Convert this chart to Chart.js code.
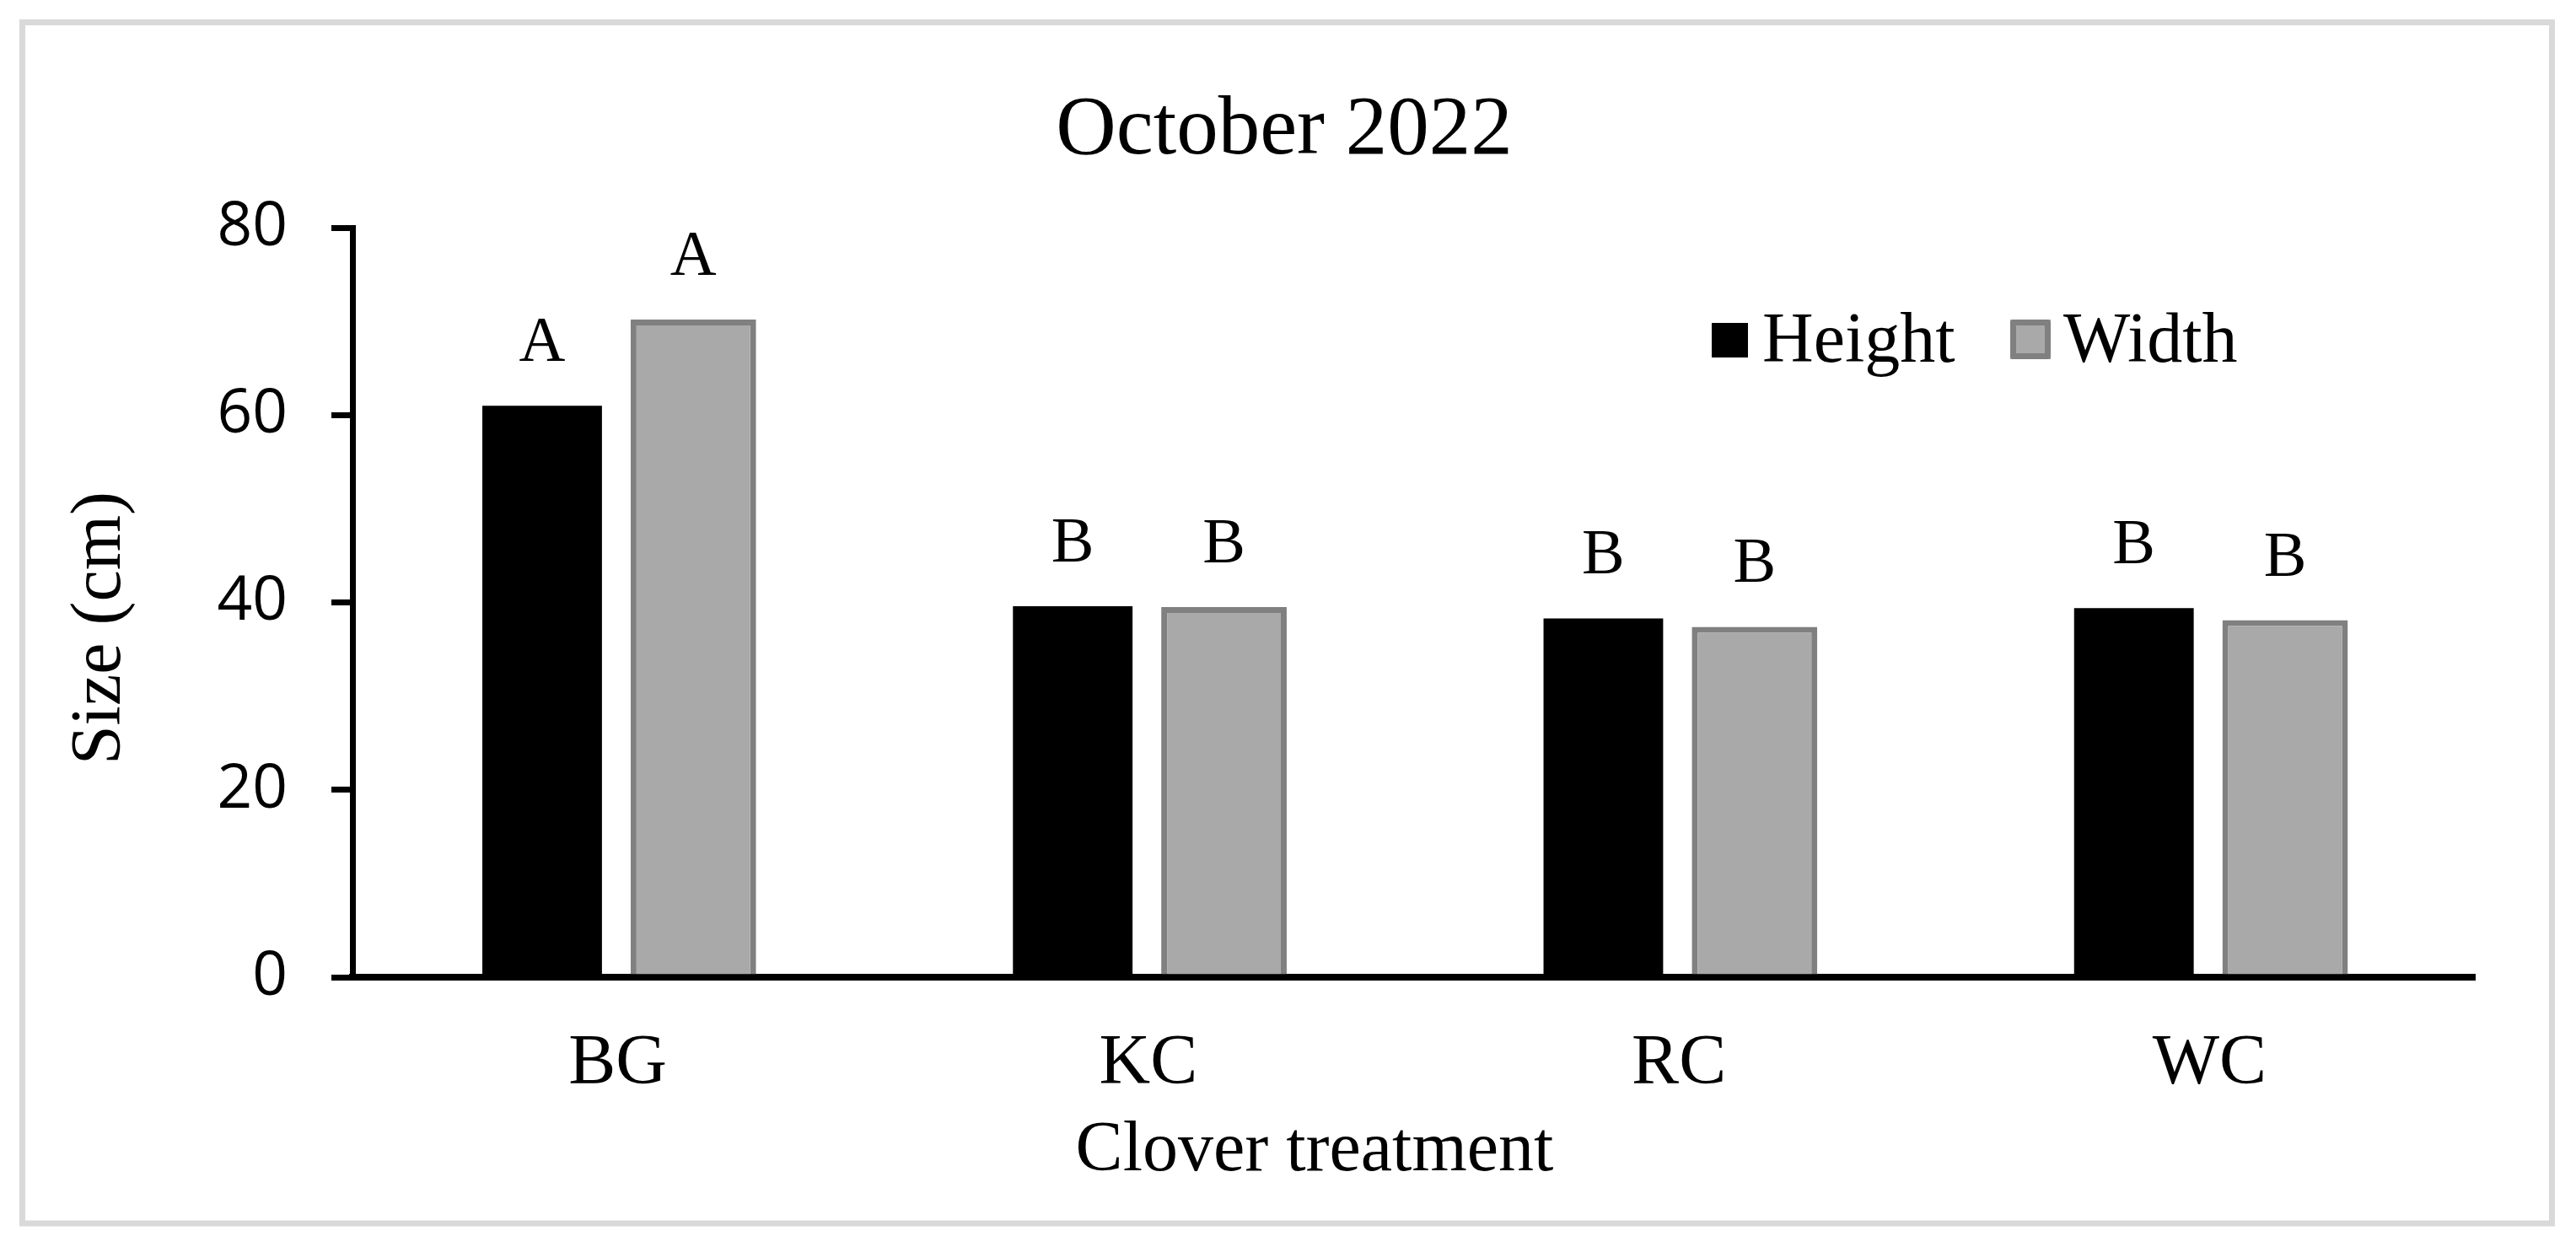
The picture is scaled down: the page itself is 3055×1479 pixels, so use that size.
<!DOCTYPE html>
<html>
<head>
<meta charset="utf-8">
<script src="https://cdn.jsdelivr.net/npm/chart.js@4.4.1/dist/chart.umd.min.js"></script>
<style>
  html, body { margin: 0; padding: 0; background: #ffffff; }
  canvas { display: block; }
</style>
</head>
<body>
<canvas id="c" width="3055" height="1479"></canvas>
<script>
// ---- data ----
const categories = ['BG', 'KC', 'RC', 'WC'];
const heightValues = [61.0, 39.6, 38.3, 39.4];
const widthValues = [70.2, 39.5, 37.4, 38.1];
const heightLetters = ['A', 'B', 'B', 'B'];
const widthLetters = ['A', 'B', 'B', 'B'];
const seriesNames = ['Height', 'Width'];
const yTickValues = [0, 20, 40, 60, 80];
const chartTitle = 'October 2022';
const xAxisTitle = 'Clover treatment';
const yAxisTitle = 'Size (cm)';

// ---- styles ----
const SERIF = '"Liberation Serif", "Times New Roman", serif';
const SANS = '"Open Sans", "DejaVu Sans", sans-serif';
const HEIGHT_COLOR = '#000000';
const WIDTH_FILL = '#a9a9a9';
const WIDTH_BORDER = '#808080';

const decorPlugin = {
  id: 'decor',
  beforeDraw(chart) {
    const ctx = chart.ctx;
    ctx.save();
    ctx.fillStyle = '#ffffff';
    ctx.fillRect(0, 0, chart.width, chart.height);
    ctx.strokeStyle = '#d9d9d9';
    ctx.lineWidth = 7;
    ctx.strokeRect(26.5, 26.5, 3000, 1424.5);
    ctx.restore();
  },
  afterDatasetsDraw(chart) {
    const ctx = chart.ctx;
    const letterSets = [heightLetters, widthLetters];
    ctx.save();
    ctx.fillStyle = '#000000';
    ctx.font = '76px ' + SERIF;
    ctx.textAlign = 'center';
    ctx.textBaseline = 'alphabetic';
    chart.data.datasets.forEach((ds, di) => {
      const meta = chart.getDatasetMeta(di);
      meta.data.forEach((bar, i) => {
        ctx.fillText(letterSets[di][i], bar.x, bar.y - 53);
      });
    });
    ctx.restore();
  },
  afterDraw(chart) {
    const ctx = chart.ctx;
    const ca = chart.chartArea;
    ctx.save();
    ctx.fillStyle = '#000000';
    // x axis title
    ctx.font = '84px ' + SERIF;
    ctx.textAlign = 'center';
    ctx.textBaseline = 'alphabetic';
    ctx.fillText(xAxisTitle, 1559, ca.bottom + 229);
    // y axis title
    ctx.save();
    ctx.translate(142, 745);
    ctx.rotate(-Math.PI / 2);
    ctx.fillText(yAxisTitle, 0, 0);
    ctx.restore();
    // legend
    ctx.textAlign = 'left';
    ctx.font = '84px ' + SERIF;
    ctx.fillStyle = HEIGHT_COLOR;
    ctx.fillRect(2030, 383, 43, 41);
    ctx.fillStyle = '#000000';
    ctx.fillText(seriesNames[0], 2090, 429);
    ctx.fillStyle = WIDTH_FILL;
    ctx.fillRect(2384, 379, 48, 47);
    ctx.strokeStyle = WIDTH_BORDER;
    ctx.lineWidth = 7;
    ctx.lineJoin = 'round';
    ctx.strokeRect(2387.5, 382.5, 41, 40);
    ctx.fillStyle = '#000000';
    ctx.fillText(seriesNames[1], 2447, 429);
    ctx.restore();
  }
};

function draw() {
  const ctx = document.getElementById('c').getContext('2d');
  new Chart(ctx, {
    type: 'bar',
    data: {
      labels: categories,
      datasets: [
        {
          label: seriesNames[0],
          data: heightValues,
          backgroundColor: HEIGHT_COLOR,
          borderWidth: 0,
          barPercentage: 0.791,
          categoryPercentage: 0.570
        },
        {
          label: seriesNames[1],
          data: widthValues,
          backgroundColor: WIDTH_FILL,
          borderColor: WIDTH_BORDER,
          borderWidth: 7,
          barPercentage: 0.830,
          categoryPercentage: 0.570
        }
      ]
    },
    options: {
      responsive: false,
      animation: false,
      devicePixelRatio: 1,
      layout: { padding: { left: 111, right: 120, top: 20, bottom: 20 } },
      plugins: {
        legend: { display: false },
        tooltip: { enabled: false },
        title: {
          display: true,
          text: chartTitle,
          color: '#000000',
          font: { family: SERIF, size: 99, weight: 'normal' },
          padding: { top: 76.6, bottom: 54.6 }
        }
      },
      scales: {
        x: {
          offset: true,
          grid: { display: false, drawTicks: false },
          border: { display: true, color: '#000000', width: 8 },
          ticks: {
            color: '#000000',
            font: { family: SERIF, size: 84 },
            padding: 54,
            maxRotation: 0,
            autoSkip: false
          },
          afterFit(scale) { scale.height = 300; }
        },
        y: {
          min: 0,
          max: 80,
          afterBuildTicks(scale) {
            scale.ticks = yTickValues.map(v => ({ value: v }));
          },
          grid: {
            display: true,
            drawOnChartArea: false,
            drawTicks: true,
            tickLength: 25,
            color: '#000000',
            lineWidth: 7
          },
          border: { display: true, color: '#000000', width: 7 },
          ticks: {
            color: '#000000',
            font: { family: SANS, size: 73 },
            padding: 52
          },
          afterFit(scale) { scale.width = 307; }
        }
      }
    },
    plugins: [decorPlugin]
  });
}

Promise.all([
  document.fonts.load('99px "Liberation Serif"'),
  document.fonts.load('73px "Open Sans"')
]).then(draw, draw);
</script>
</body>
</html>
